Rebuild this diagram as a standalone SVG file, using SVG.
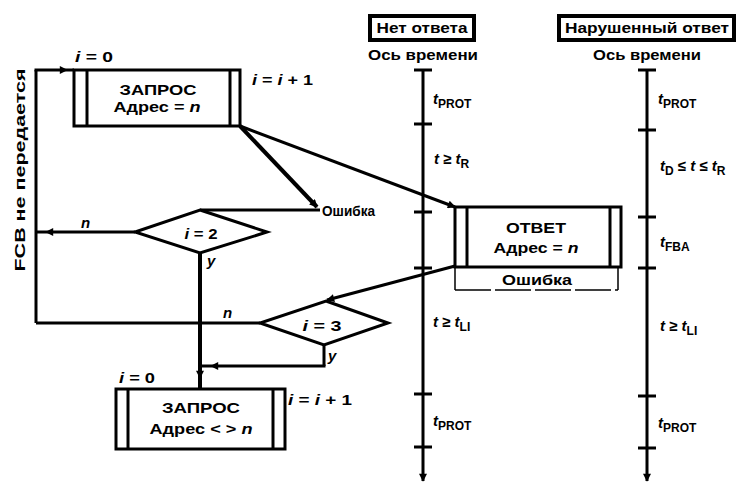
<svg xmlns="http://www.w3.org/2000/svg" width="740" height="484" viewBox="0 0 740 484">
<style>
.t{font-family:"Liberation Sans",Arial,sans-serif;font-weight:bold;font-size:15px;fill:#000}
.s{font-size:14px}
.i{font-style:italic}
.ln{stroke:#000;stroke-width:3;fill:none}
.th{stroke:#000;stroke-width:4;fill:none}
.bx{fill:#fff;stroke:#000;stroke-width:3}
.tk{stroke:#000;stroke-width:3}
</style>
<defs>
<marker id="ah" viewBox="0 0 10 10" refX="9" refY="5" markerUnits="userSpaceOnUse" markerWidth="10" markerHeight="8" orient="auto">
<path d="M0,0 L10,5 L0,10 Z" fill="#000"/>
</marker>
</defs>
<rect width="740" height="484" fill="#fff"/>

<g id="connectors">
<path class="ln" d="M36,323 V70"/>
<path class="ln" d="M34.5,70 H67 L74,70" marker-mid="url(#ah)"/>
<path class="th" d="M240,126 L317,207" marker-end="url(#ah)"/>
<path class="ln" d="M320,210 H200"/>
<path class="ln" d="M240,126 L455,207" marker-end="url(#ah)"/>
<path class="ln" d="M135,232 H46 L36,232" marker-mid="url(#ah)"/>
<path class="ln" d="M455,266 L327,300" marker-end="url(#ah)"/>
<path class="ln" d="M260,323 H36"/>
<path class="th" d="M200,253 V378 L200,389" marker-mid="url(#ah)"/>
<path class="ln" d="M324,345 V366"/>
<path class="ln" d="M325.5,366 H211 L200,366" marker-mid="url(#ah)"/>
</g>

<g id="box1">
<rect class="bx" x="74" y="70" width="166" height="56"/>
<line class="tk" x1="87" y1="70" x2="87" y2="126"/>
<line class="tk" x1="230" y1="70" x2="230" y2="126"/>
<text class="t" x="158" y="95" text-anchor="middle" textLength="77" lengthAdjust="spacingAndGlyphs">ЗАПРОС</text>
<text class="t" x="157" y="112" text-anchor="middle" textLength="87" lengthAdjust="spacingAndGlyphs">Адрес = <tspan class="i">n</tspan></text>
</g>
<text class="t" x="75" y="62" textLength="38" lengthAdjust="spacingAndGlyphs"><tspan class="i">i</tspan> = 0</text>
<text class="t" x="252" y="85" textLength="61" lengthAdjust="spacingAndGlyphs"><tspan class="i">i</tspan> = <tspan class="i">i</tspan> + 1</text>
<text class="t" x="322" y="216" textLength="53" lengthAdjust="spacingAndGlyphs">Ошибка</text>

<g id="diamond2">
<polygon class="bx" points="200,210 267,232 200,253 135,232"/>
<text class="t" x="201" y="239" text-anchor="middle" textLength="33" lengthAdjust="spacingAndGlyphs"><tspan class="i">i</tspan> = 2</text>
</g>
<text class="t i" x="81" y="228">n</text>
<text class="t i" x="207" y="266">y</text>

<g id="diamond3">
<polygon class="bx" points="326,301 388,323 324,345 260,323"/>
<text class="t" x="322" y="331" text-anchor="middle" textLength="39" lengthAdjust="spacingAndGlyphs"><tspan class="i">i</tspan> = 3</text>
</g>
<text class="t i" x="223" y="318">n</text>
<text class="t i" x="328" y="361">y</text>

<g id="box2">
<rect class="bx" x="116" y="389" width="169" height="60"/>
<line class="tk" x1="128" y1="389" x2="128" y2="449"/>
<line class="tk" x1="273" y1="389" x2="273" y2="449"/>
<text class="t" x="201" y="413" text-anchor="middle" textLength="78" lengthAdjust="spacingAndGlyphs">ЗАПРОС</text>
<text class="t" x="201" y="434" text-anchor="middle" textLength="103" lengthAdjust="spacingAndGlyphs">Адрес &lt; &gt; <tspan class="i">n</tspan></text>
</g>
<text class="t" x="119" y="383" textLength="36" lengthAdjust="spacingAndGlyphs"><tspan class="i">i</tspan> = 0</text>
<text class="t" x="288" y="405" textLength="64" lengthAdjust="spacingAndGlyphs"><tspan class="i">i</tspan> = <tspan class="i">i</tspan> + 1</text>

<text class="t s" transform="translate(25,170) rotate(-90)" text-anchor="middle" textLength="203" lengthAdjust="spacingAndGlyphs">FCB не передается</text>

<g id="timeline1">
<path class="ln" d="M423,70 V481" marker-end="url(#ah)"/>
<line class="tk" x1="414" y1="70" x2="432" y2="70"/>
<line class="tk" x1="414" y1="124" x2="432" y2="124"/>
<line class="tk" x1="414" y1="212" x2="432" y2="212"/>
<line class="tk" x1="414" y1="268" x2="432" y2="268"/>
<line class="tk" x1="414" y1="394" x2="432" y2="394"/>
<line class="tk" x1="414" y1="447" x2="432" y2="447"/>
<text class="t" x="433" y="104"><tspan class="i">t</tspan><tspan font-size="12" dy="4">PROT</tspan></text>
<text class="t" x="434" y="164"><tspan class="i">t</tspan> ≥ <tspan class="i">t</tspan><tspan font-size="12" dy="4">R</tspan></text>
<text class="t" x="433" y="327"><tspan class="i">t</tspan> ≥ <tspan class="i">t</tspan><tspan font-size="12" dy="4">LI</tspan></text>
<text class="t" x="433" y="426"><tspan class="i">t</tspan><tspan font-size="12" dy="4">PROT</tspan></text>
</g>
<g id="header1">
<rect x="370" y="16" width="104" height="24" fill="#fff" stroke="#000" stroke-width="4"/>
<text class="t" x="422" y="33" text-anchor="middle" textLength="91" lengthAdjust="spacingAndGlyphs">Нет ответа</text>
<text class="t" x="423" y="60" text-anchor="middle" textLength="110" lengthAdjust="spacingAndGlyphs">Ось времени</text>
</g>

<g id="timeline2">
<path class="ln" d="M647,70 V481" marker-end="url(#ah)"/>
<line class="tk" x1="638" y1="70" x2="656" y2="70"/>
<line class="tk" x1="638" y1="130" x2="656" y2="130"/>
<line class="tk" x1="638" y1="217" x2="656" y2="217"/>
<line class="tk" x1="638" y1="268" x2="656" y2="268"/>
<line class="tk" x1="638" y1="396" x2="656" y2="396"/>
<line class="tk" x1="638" y1="448" x2="656" y2="448"/>
<text class="t" x="658" y="104"><tspan class="i">t</tspan><tspan font-size="12" dy="4">PROT</tspan></text>
<text class="t" x="660" y="171"><tspan class="i">t</tspan><tspan font-size="12" dy="4">D</tspan><tspan dy="-4"> ≤ </tspan><tspan class="i">t</tspan> ≤ <tspan class="i">t</tspan><tspan font-size="12" dy="4">R</tspan></text>
<text class="t" x="660" y="247"><tspan class="i">t</tspan><tspan font-size="12" dy="4">FBA</tspan></text>
<text class="t" x="660" y="331"><tspan class="i">t</tspan> ≥ <tspan class="i">t</tspan><tspan font-size="12" dy="4">LI</tspan></text>
<text class="t" x="658" y="428"><tspan class="i">t</tspan><tspan font-size="12" dy="4">PROT</tspan></text>
</g>
<g id="header2">
<rect x="559" y="16" width="175" height="24" fill="#fff" stroke="#000" stroke-width="4"/>
<text class="t" x="647" y="33" text-anchor="middle" textLength="164" lengthAdjust="spacingAndGlyphs">Нарушенный ответ</text>
<text class="t" x="647" y="60" text-anchor="middle" textLength="108" lengthAdjust="spacingAndGlyphs">Ось времени</text>
</g>

<g id="otvet">
<path d="M455,267 V290 M455,290 H618 M618,290 V267" stroke="#000" stroke-width="1.5" fill="none" stroke-dasharray="36,4"/>
<rect class="bx" x="455" y="207" width="166" height="60"/>
<line class="tk" x1="467" y1="207" x2="467" y2="267"/>
<line class="tk" x1="610" y1="207" x2="610" y2="267"/>
<text class="t" x="536" y="233" text-anchor="middle" textLength="60" lengthAdjust="spacingAndGlyphs">ОТВЕТ</text>
<text class="t" x="536" y="253" text-anchor="middle" textLength="85" lengthAdjust="spacingAndGlyphs">Адрес = <tspan class="i">n</tspan></text>
<text class="t" x="537" y="285" text-anchor="middle" textLength="70" lengthAdjust="spacingAndGlyphs">Ошибка</text>
</g>
</svg>
